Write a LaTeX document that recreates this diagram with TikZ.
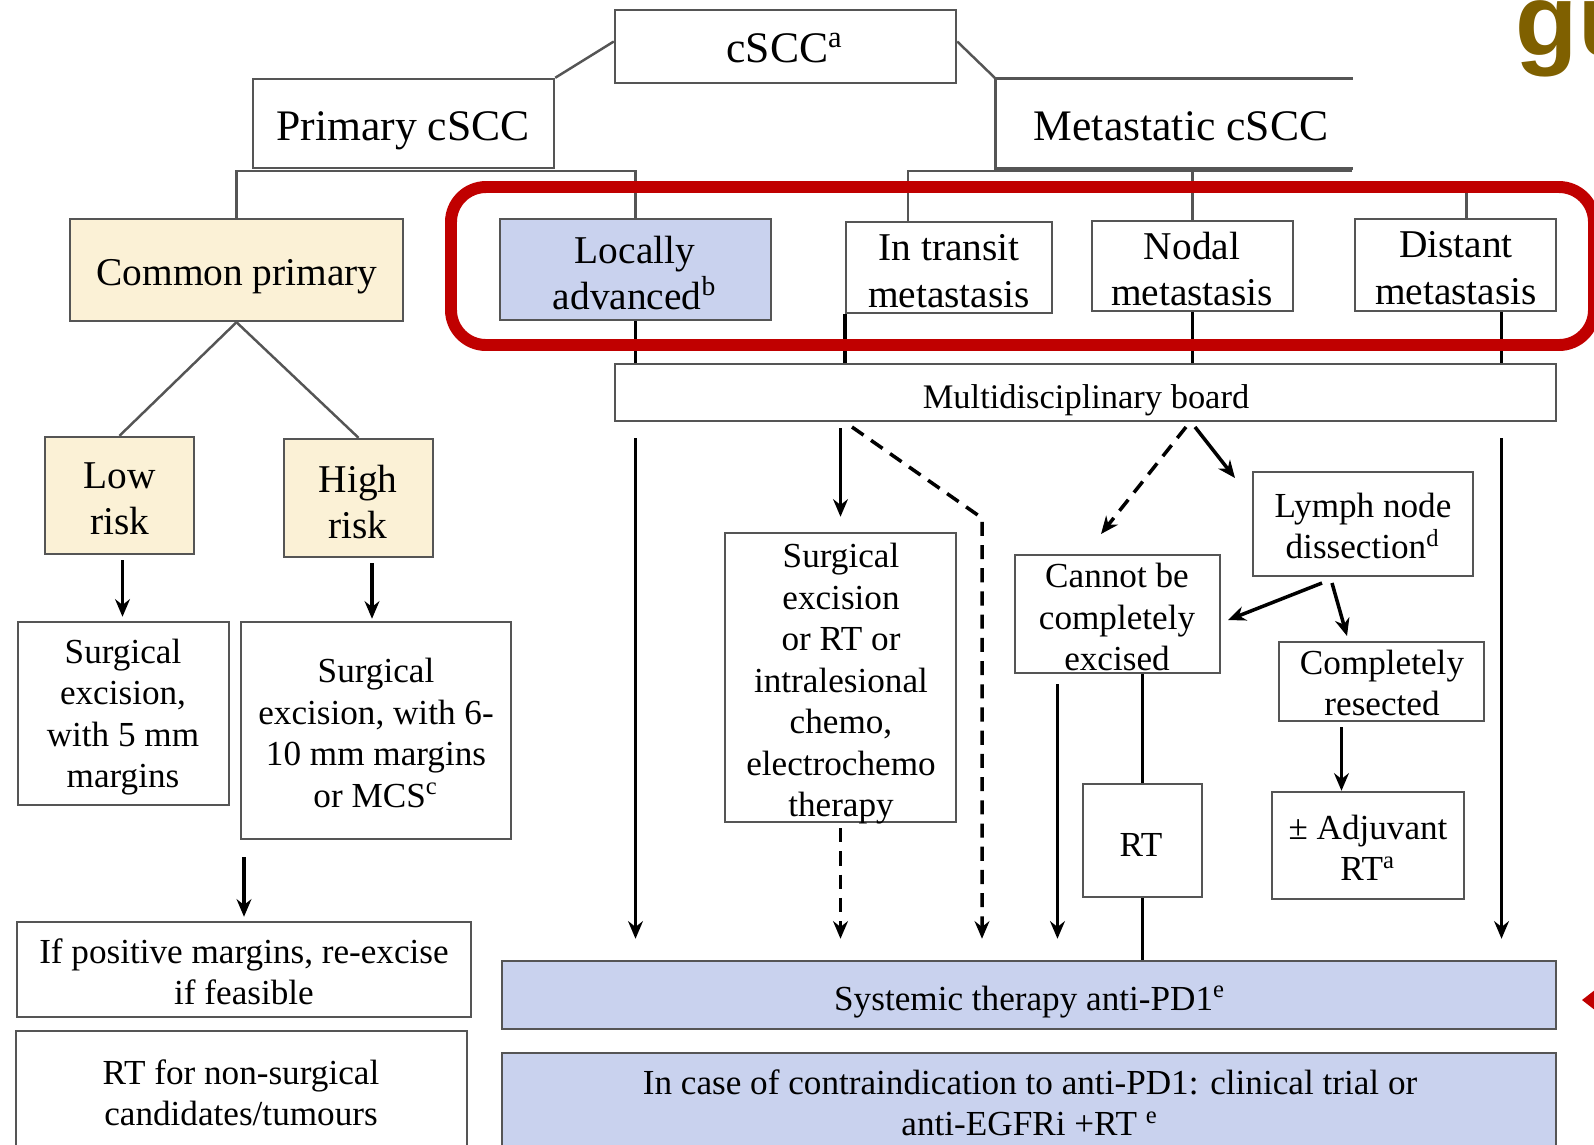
\documentclass[tikz,border=0pt]{standalone}
\usepackage{fontspec}
\setmainfont{Liberation Serif}
\newfontfamily\gufont{Liberation Sans}
\usetikzlibrary{arrows.meta,fit,calc}
\definecolor{cream}{RGB}{251,241,214}
\definecolor{lblue}{RGB}{201,210,238}
\definecolor{framered}{RGB}{192,0,0}
\definecolor{gold}{RGB}{127,96,0}
\definecolor{edge}{RGB}{85,85,85}
\begin{document}
\begin{tikzpicture}[x=0.01cm,y=-0.01cm,
  box/.style={draw=edge, line width=0.7pt, inner sep=0pt},
  cbox/.style={box, fill=cream},
  bbox/.style={box, fill=lblue},
  txt/.style={align=center, inner sep=0pt, font=\fontsize{10}{11.8}\selectfont},
  txtm/.style={align=center, inner sep=0pt, font=\fontsize{11.2}{13.2}\selectfont},
  txtl/.style={align=center, inner sep=0pt, font=\fontsize{12.4}{14}\selectfont},
  link/.style={draw=edge, line width=0.7pt},
  thk/.style={draw=black, line width=1.1pt},
  plain/.style={draw=black, line width=0.8pt},
  arr/.style={-{Stealth[length=5pt,width=4.2pt]}, line width=1pt, black},
  dasharr/.style={arr, dash pattern=on 4pt off 2.6pt}]
\useasboundingbox (0,0) rectangle (1594,1144);
\clip (0,0) rectangle (1594,1144);

% ---- top level
\node[box, fit={(615,10) (956,83)}] (cscc) {};
\node[txtl] (cscct) at (785,48) {cSCC\textsuperscript{a}};
\node[box, fit={(253,79) (554,168)}] (primary) {};
\node[txtl] (primaryt) at (403,131) {Primary cSCC};
\node[inner sep=0pt, fit={(996,79) (1352,168)}] (meta) {};
\draw[link] (meta.north east) -- (meta.north west) -- (meta.south west) -- (meta.south east);
\node[txtl] (metat) at (1181,126) {Metastatic cSCC};
\draw[link] ([yshift=0.05cm]cscc.west) -- (primary.north east);
\draw[link] ([yshift=0.05cm]cscc.east) -- (meta.north west);

% ---- second row
\node[cbox, fit={(70,219) (403,321)}] (common) {};
\node[txtm] (commont) at (237,277) {Common primary};
\node[bbox, fit={(500,219) (771,320)}] (locally) {};
\node[txtm] (locallyt) at (635,273) {Locally\\advanced\textsuperscript{b}};
\node[box, fit={(846,222) (1052,313)}] (intransit) {};
\node[txtm] (intransitt) at (949,271) {In transit\\metastasis};
\node[box, fit={(1092,221) (1293,311)}] (nodal) {};
\node[txtm] (nodalt) at (1192,269) {Nodal\\metastasis};
\node[box, fit={(1355,219) (1556,311)}] (distant) {};
\node[txtm] (distantt) at (1456,268) {Distant\\metastasis};

\coordinate (pbar) at (0,171);
\draw[link] (common.north) -- (common.north |- pbar) -- (locally.north |- pbar) -- (locally.north);
\coordinate (mbar) at (1352,171);
\coordinate (itn) at ([xshift=-0.41cm]intransit.north);
\draw[link] (mbar) -- (itn |- mbar) -- (itn);
\draw[link] (meta.south west) -- (meta.south west |- mbar);
\draw[link] (nodal.north |- mbar) -- (nodal.north);
\coordinate (dtn) at ([xshift=0.11cm]distant.north);
\draw[link] (dtn) -- ++(0,-36);

% ---- board
\node[box, fit={(615,364) (1556,421)}] (board) {};
\node[txt, font=\fontsize{9.8}{11}\selectfont] (boardt) at (1086,400) {Multidisciplinary board};
\coordinate (dds) at ([xshift=0.46cm]distant.south);
\draw[thk] (locally.south) -- (locally.south |- board.north);
\draw[thk] (intransit.south west) -- (intransit.south west |- board.north);
\draw[thk] (nodal.south) -- (nodal.south |- board.north);
\draw[thk] (dds) -- (dds |- board.north);

% ---- red frame
\draw[framered, line width=3.4pt, rounded corners=0.35cm] (451,187) rectangle (1594,345);

% ---- metastatic branch boxes
\node[box, fit={(725,533) (956,822)}] (mid) {};
\node[txt] (midt) at (841,684) {Surgical\\excision\\or RT or\\intralesional\\chemo,\\electrochemo\\therapy};
\node[bbox, fit={(502,961) (1556,1029)}] (systemic) {};
\node[txt] (systemict) at (1030,1002) {Systemic therapy anti-PD1\textsuperscript{e}};
\node[bbox, fit={(502,1053) (1556,1170)}] (contra) {};
\node[txt] (contrat) at (1030,1103) {In case of contraindication to anti-PD1: clinical trial or\\anti-EGFRi +RT \textsuperscript{e}};
\node[box, fit={(1015,555) (1220,673)}] (cannot) {};
\node[txt] (cannott) at (1117,617) {Cannot be\\completely\\excised};
\node[box, fit={(1253,472) (1473,576)}] (lymph) {};
\node[txt] (lympht) at (1363,526) {Lymph node\\dissection\textsuperscript{d}};
\node[box, fit={(1279,642) (1484,721)}] (compl) {};
\node[txt] (complt) at (1382,683) {Completely\\resected};
\node[box, fit={(1272,792) (1464,899)}] (adj) {};
\node[txt] (adjt) at (1368,848) {± Adjuvant\\RT\textsuperscript{a}};
\node[box, fit={(1083,784) (1202,897)}] (rt) {};
\node[txt] (rtt) at (1141,845) {RT};

% ---- metastatic branch connectors
\draw[arr, shorten <=0.16cm, shorten >=0.21cm] (locally.south |- board.south) -- (locally.south |- systemic.north);
\draw[arr, shorten <=0.06cm, shorten >=0.15cm] (mid.north |- board.south) -- (mid.north);
\coordinate (ds) at (852,427);
\coordinate (dk) at (982,518);
\draw[dasharr, shorten >=0.21cm] (ds) -- (dk) -- (dk |- systemic.north);
\draw[dasharr, shorten >=0.21cm] ([yshift=-0.05cm]mid.south) -- (mid.south |- systemic.north);
\coordinate (cl) at ([xshift=-0.6cm]cannot.south);
\draw[arr, shorten <=0.10cm, shorten >=0.21cm] (cl) -- (cl |- systemic.north);
\draw[plain] (rt.north |- cannot.south) -- (rt.north);
\draw[plain] (rt.south) -- (rt.south |- systemic.north);
\coordinate (b1) at (1186,427);
\coordinate (c1) at (1101,534);
\draw[dasharr] (b1) -- (c1);
\coordinate (b2) at (1195,427);
\coordinate (l1) at (1235,478);
\draw[arr] (b2) -- (l1);
\coordinate (l2) at (1322,583);
\coordinate (c2) at (1228,620);
\draw[arr] (l2) -- (c2);
\coordinate (l3) at (1332,583);
\coordinate (p1) at (1347,636);
\draw[arr] (l3) -- (p1);
\coordinate (ca) at ([xshift=-0.4cm]compl.south);
\draw[arr, shorten <=0.05cm] (ca) -- (ca |- adj.north);
\draw[arr, shorten <=0.16cm, shorten >=0.21cm] (dds |- board.south) -- (dds |- systemic.north);

% ---- primary branch
\node[cbox, fit={(45,437) (194,554)}] (low) {};
\node[txtm, font=\fontsize{11.2}{13}\selectfont] (lowt) at (120,499) {Low\\risk};
\node[cbox, fit={(284,439) (433,557)}] (high) {};
\node[txtm, font=\fontsize{11.2}{13}\selectfont] (hight) at (358,502) {High\\risk};
\draw[link] (common.south) -- (low.north);
\draw[link] (common.south) -- (high.north);
\node[box, fit={(18,622) (229,805)}] (s5) {};
\node[txt] (s5t) at (123,717) {Surgical\\excision,\\with 5 mm\\margins};
\node[box, fit={(241,622) (511,839)}] (s6) {};
\node[txt] (s6t) at (376,733) {Surgical\\excision, with 6-\\10 mm margins\\or MCS\textsuperscript{c}};
\coordinate (la) at ([xshift=0.03cm]low.south);
\draw[arr, shorten <=0.05cm, shorten >=0.04cm] (la) -- (la |- s5.north);
\coordinate (ha) at ([xshift=0.135cm]high.south);
\draw[arr, shorten <=0.05cm, shorten >=0.02cm] (ha) -- (ha |- s6.north);
\node[box, fit={(17,922) (471,1017)}] (ifpos) {};
\node[txt] (ifpost) at (244,972) {If positive margins, re-excise\\if feasible};
\draw[arr, shorten <=0.17cm, shorten >=0.04cm] (ifpos.north |- s6.south) -- (ifpos.north);
\node[box, fit={(16,1031) (467,1170)}] (rtns) {};
\node[txt] (rtnst) at (241,1093) {RT for non-surgical\\candidates/tumours};

% ---- decorations
\fill[framered] (1582,1000) -- (1600,986) -- (1600,1014) -- cycle;
\node[anchor=base west, inner sep=0pt, font=\fontsize{29}{30}\selectfont\gufont\bfseries, text=gold] (gu) at (1515,55) {gu};
\end{tikzpicture}
\end{document}
